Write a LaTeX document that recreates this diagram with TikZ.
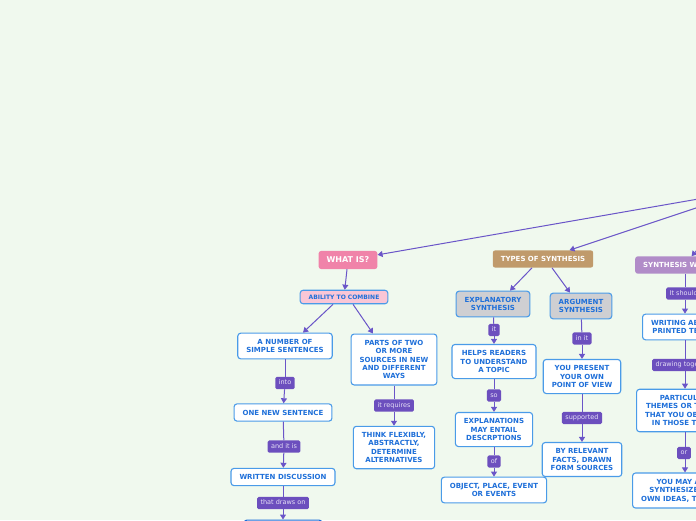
\documentclass[tikz,border=0pt]{standalone}
\usepackage{fontspec}
\setmainfont{DejaVu Sans}
\usetikzlibrary{arrows.meta,positioning}
\definecolor{bg}{HTML}{F0F9EE}
\definecolor{edge}{HTML}{6A55C8}
\definecolor{tagfill}{HTML}{6C4FBE}
\definecolor{tagtext}{HTML}{E6E0F6}
\definecolor{rim}{HTML}{4A9BE8}
\definecolor{ink}{HTML}{1E6FD9}
\definecolor{pinktop}{HTML}{F083A9}
\definecolor{pinksoft}{HTML}{F9C6D6}
\definecolor{tan}{HTML}{C09A6B}
\definecolor{greybox}{HTML}{CFCFD2}
\definecolor{lilac}{HTML}{B18CC8}
\tikzset{
  topic/.style={rounded corners=2.5pt, text=white, font=\bfseries\fontsize{7}{8.4}\selectfont, inner xsep=8pt, inner ysep=6pt},
  box/.style={draw=rim, line width=1.1pt, fill=white, rounded corners=3pt, text=ink, align=center,
    font=\bfseries\fontsize{7}{8.4}\selectfont, inner xsep=8.5pt, inner ysep=6pt},
  tag/.style={fill=tagfill, rounded corners=1.5pt, text=tagtext, font=\fontsize{6.5}{7.5}\selectfont,
    text height=5pt, text depth=1.5pt, inner xsep=3.5pt, inner ysep=2.8pt},
  plain/.style={draw=edge, line width=1pt},
  link/.style={plain, -{Triangle[length=5pt,width=6pt]}}
}

\begin{document}
\begin{tikzpicture}[x=1pt, y=-1pt]
  \path[use as bounding box, fill=bg] (0,0) rectangle (696,520);
  \clip (0,0) rectangle (696,520);

  % hub sits off the page, to the right
  \coordinate (hub) at (750,190);
  \coordinate (spine) at (685,0);

  % What is?
  \node[topic, fill=pinktop, font=\bfseries\fontsize{8}{9}\selectfont] (whatis) at (348,260) {WHAT IS?};
  \node[box, fill=pinksoft, font=\bfseries\fontsize{6}{7}\selectfont, inner ysep=4.5pt] (ability) at (344,297) {ABILITY TO COMBINE};
  \node[box] (numsent) at (285,346) {A NUMBER OF\\SIMPLE SENTENCES};
  \node[box] (parts) at (394,359.5) {PARTS OF TWO\\OR MORE\\SOURCES IN NEW\\AND DIFFERENT\\WAYS};
  \node[tag] (into) at (285,383) {into};
  \node[box] (onesent) at (283,412.5) {ONE NEW SENTENCE};
  \node[tag] (andit) at (284,446.5) {and it is};
  \node[box] (written) at (283,477) {WRITTEN DISCUSSION};
  \node[tag] (drawson) at (283,503) {that draws on};
  \node[box, draw=ink, minimum width=78pt, minimum height=20pt, anchor=north] (sources) at (283,519.5) {};
  \node[tag] (requires) at (394,405.5) {it requires};
  \node[box] (think) at (394,447.5) {THINK FLEXIBLY,\\ABSTRACTLY,\\DETERMINE\\ALTERNATIVES};

  % Types of synthesis
  \node[topic, fill=tan] (types) at (543,259) {TYPES OF SYNTHESIS};
  \node[box, fill=greybox] (explan) at (493,304) {EXPLANATORY\\SYNTHESIS};
  \node[box, fill=greybox] (argum) at (581,306) {ARGUMENT\\SYNTHESIS};
  \node[tag] (it) at (494,330) {it};
  \node[box] (helps) at (494,361.5) {HELPS READERS\\TO UNDERSTAND\\A TOPIC};
  \node[tag] (so) at (494,395.5) {so};
  \node[box] (entail) at (494,429.5) {EXPLANATIONS\\MAY ENTAIL\\DESCRPTIONS};
  \node[tag] (of) at (494,461.5) {of};
  \node[box] (object) at (494,490) {OBJECT, PLACE, EVENT\\OR EVENTS};
  \node[tag] (init) at (582,338.5) {in it};
  \node[box] (present) at (582,376.5) {YOU PRESENT\\YOUR OWN\\POINT OF VIEW};
  \node[tag] (supported) at (582,418) {supported};
  \node[box] (facts) at (582,459.5) {BY RELEVANT\\FACTS, DRAWN\\FORM SOURCES};

  % Synthesis writing (runs off the page)
  \node[topic, fill=lilac, anchor=west] (synw) at (635,265) {SYNTHESIS WRITING};
  \node[tag, anchor=west] (shouldbe) at (666,293.5) {It should be};
  \node[box, anchor=west] (writing) at (642,327) {WRITING ABOUT\\PRINTED TEXTS};
  \node[tag, anchor=west] (together) at (652,365) {drawing together};
  \node[box, anchor=west] (particular) at (636,410.5) {PARTICULAR\\THEMES OR TRAITS\\THAT YOU OBSERVE\\IN THOSE TEXTS};
  \node[tag] (or) at (684,453) {or};
  \node[box, anchor=west] (mayalso) at (632,490.5) {YOU MAY ALSO\\SYNTHESIZE YOUR\\OWN IDEAS, THEORIES};

  % connectors
  \draw[link] (hub) -- (whatis);
  \draw[link] (hub) -- (types);
  \draw[link] (hub) -- (synw);

  \draw[link] (whatis) -- (ability);
  \draw[link] ([xshift=-11pt]ability.south) -- ([xshift=18pt]numsent.north);
  \draw[link] ([xshift=9pt]ability.south) -- ([xshift=-21pt]parts.north);
  \draw[plain] (numsent) -- (into);
  \draw[link] (into) -- (onesent);
  \draw[plain] (onesent) -- (andit);
  \draw[link] (andit) -- (written);
  \draw[plain] (written) -- (drawson);
  \draw[link] (drawson) -- (sources);
  \draw[plain] (parts) -- (requires);
  \draw[link] (requires) -- (think);

  \draw[link] ([xshift=-11pt]types.south) -- ([xshift=17pt]explan.north);
  \draw[link] ([xshift=9pt]types.south) -- ([xshift=-11pt]argum.north);
  \draw[plain] (explan) -- (it);
  \draw[link] (it) -- (helps);
  \draw[plain] (helps) -- (so);
  \draw[link] (so) -- (entail);
  \draw[plain] (entail) -- (of);
  \draw[link] (of) -- (object);
  \draw[plain] (argum) -- (init);
  \draw[link] (init) -- (present);
  \draw[plain] (present) -- (supported);
  \draw[link] (supported) -- (facts);

  \draw[plain] (synw.south -| spine) -- (shouldbe.north -| spine);
  \draw[link] (shouldbe.south -| spine) -- (writing.north -| spine);
  \draw[plain] (writing.south -| spine) -- (together.north -| spine);
  \draw[link] (together.south -| spine) -- (particular.north -| spine);
  \draw[plain] (particular.south -| spine) -- (or.north -| spine);
  \draw[link] (or.south -| spine) -- (mayalso.north -| spine);
\end{tikzpicture}
\end{document}
